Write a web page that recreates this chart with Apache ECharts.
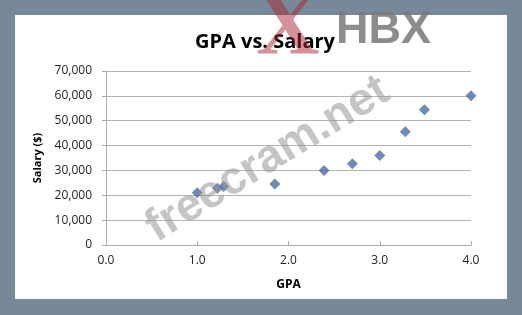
<!DOCTYPE html>
<html><head><meta charset="utf-8">
<script src="https://cdn.jsdelivr.net/npm/echarts@6/dist/echarts.min.js"></script>
<style>html,body{margin:0;padding:0;background:#778899;}#c{width:522px;height:315px;}</style>
</head><body><div id="c"></div>
<script>
const gpa = [1.0, 1.22, 1.29, 1.85, 2.39, 2.70, 3.0, 3.28, 3.49, 4.0];
const salary = [21000, 22800, 23500, 24500, 30000, 32700, 36000, 45600, 54400, 60000];
const chartTitle = "GPA vs. Salary";
const xName = "GPA";
const yName = "Salary ($)";

const chart = echarts.init(document.getElementById('c'));
const font = "'Open Sans', 'Liberation Sans', sans-serif";
chart.setOption({
  animation: false,
  backgroundColor: '#778899',
  title: { text: chartTitle, left: 260, top: 27, textAlign: 'center',
    textStyle: { fontFamily: font, fontSize: 20, fontWeight: 'bold', color: '#000' } },
  grid: { left: 106, right: 51, top: 71, bottom: 70, show: false },
  graphic: [
    { type: 'rect', z: -10, shape: { x: 15, y: 15, width: 492, height: 284 }, style: { fill: '#fff' } },
    { type: 'text', z: 10, left: 336, top: 8, style: { text: 'HBX', fontFamily: "'Liberation Sans', sans-serif", fontWeight: 'bold', fontSize: 45, fill: 'rgba(120,120,120,0.85)' } },
    { type: 'text', z: 10, left: 256, top: -14, style: { text: 'X', fontFamily: "'Liberation Serif', serif", fontWeight: 'bold', fontSize: 88, fill: 'rgba(170,40,50,0.5)' } },
    { type: 'text', z: 10, x: 138, y: 212, rotation: 0.55, style: { text: 'freecram.net', fontFamily: "'Liberation Sans', sans-serif", fontWeight: 'bold', fontSize: 46, fill: 'rgba(150,150,150,0.55)' } }
  ],
  xAxis: {
    type: 'value', min: 0, max: 4, interval: 1,
    name: xName, nameLocation: 'middle', nameGap: 34,
    nameTextStyle: { fontFamily: font, fontSize: 12, fontWeight: 'bold', color: '#000' },
    axisLine: { show: true, lineStyle: { color: '#aaa' } },
    axisTick: { show: true, inside: true, length: 4, lineStyle: { color: '#aaa' } },
    splitLine: { show: false },
    axisLabel: { fontFamily: font, fontSize: 12, color: '#222', margin: 10, formatter: v => v.toFixed(1) }
  },
  yAxis: {
    type: 'value', min: 0, max: 70000, interval: 10000,
    name: yName, nameLocation: 'middle', nameGap: 48,
    nameTextStyle: { fontFamily: font, fontSize: 11, fontWeight: 'bold', color: '#000' },
    axisLine: { show: true, lineStyle: { color: '#aaa' } },
    axisTick: { show: true, length: 4, lineStyle: { color: '#aaa' } },
    splitLine: { show: true, lineStyle: { color: '#b4b4b4' } },
    axisLabel: { fontFamily: font, fontSize: 12, color: '#222', margin: 14,
      formatter: v => v.toLocaleString('en-US') }
  },
  series: [{
    type: 'scatter', symbol: 'diamond', symbolSize: 11,
    itemStyle: { color: '#4a6ea3' },
    data: gpa.map((g, i) => [g, salary[i]])
  }]
});
</script></body></html>
